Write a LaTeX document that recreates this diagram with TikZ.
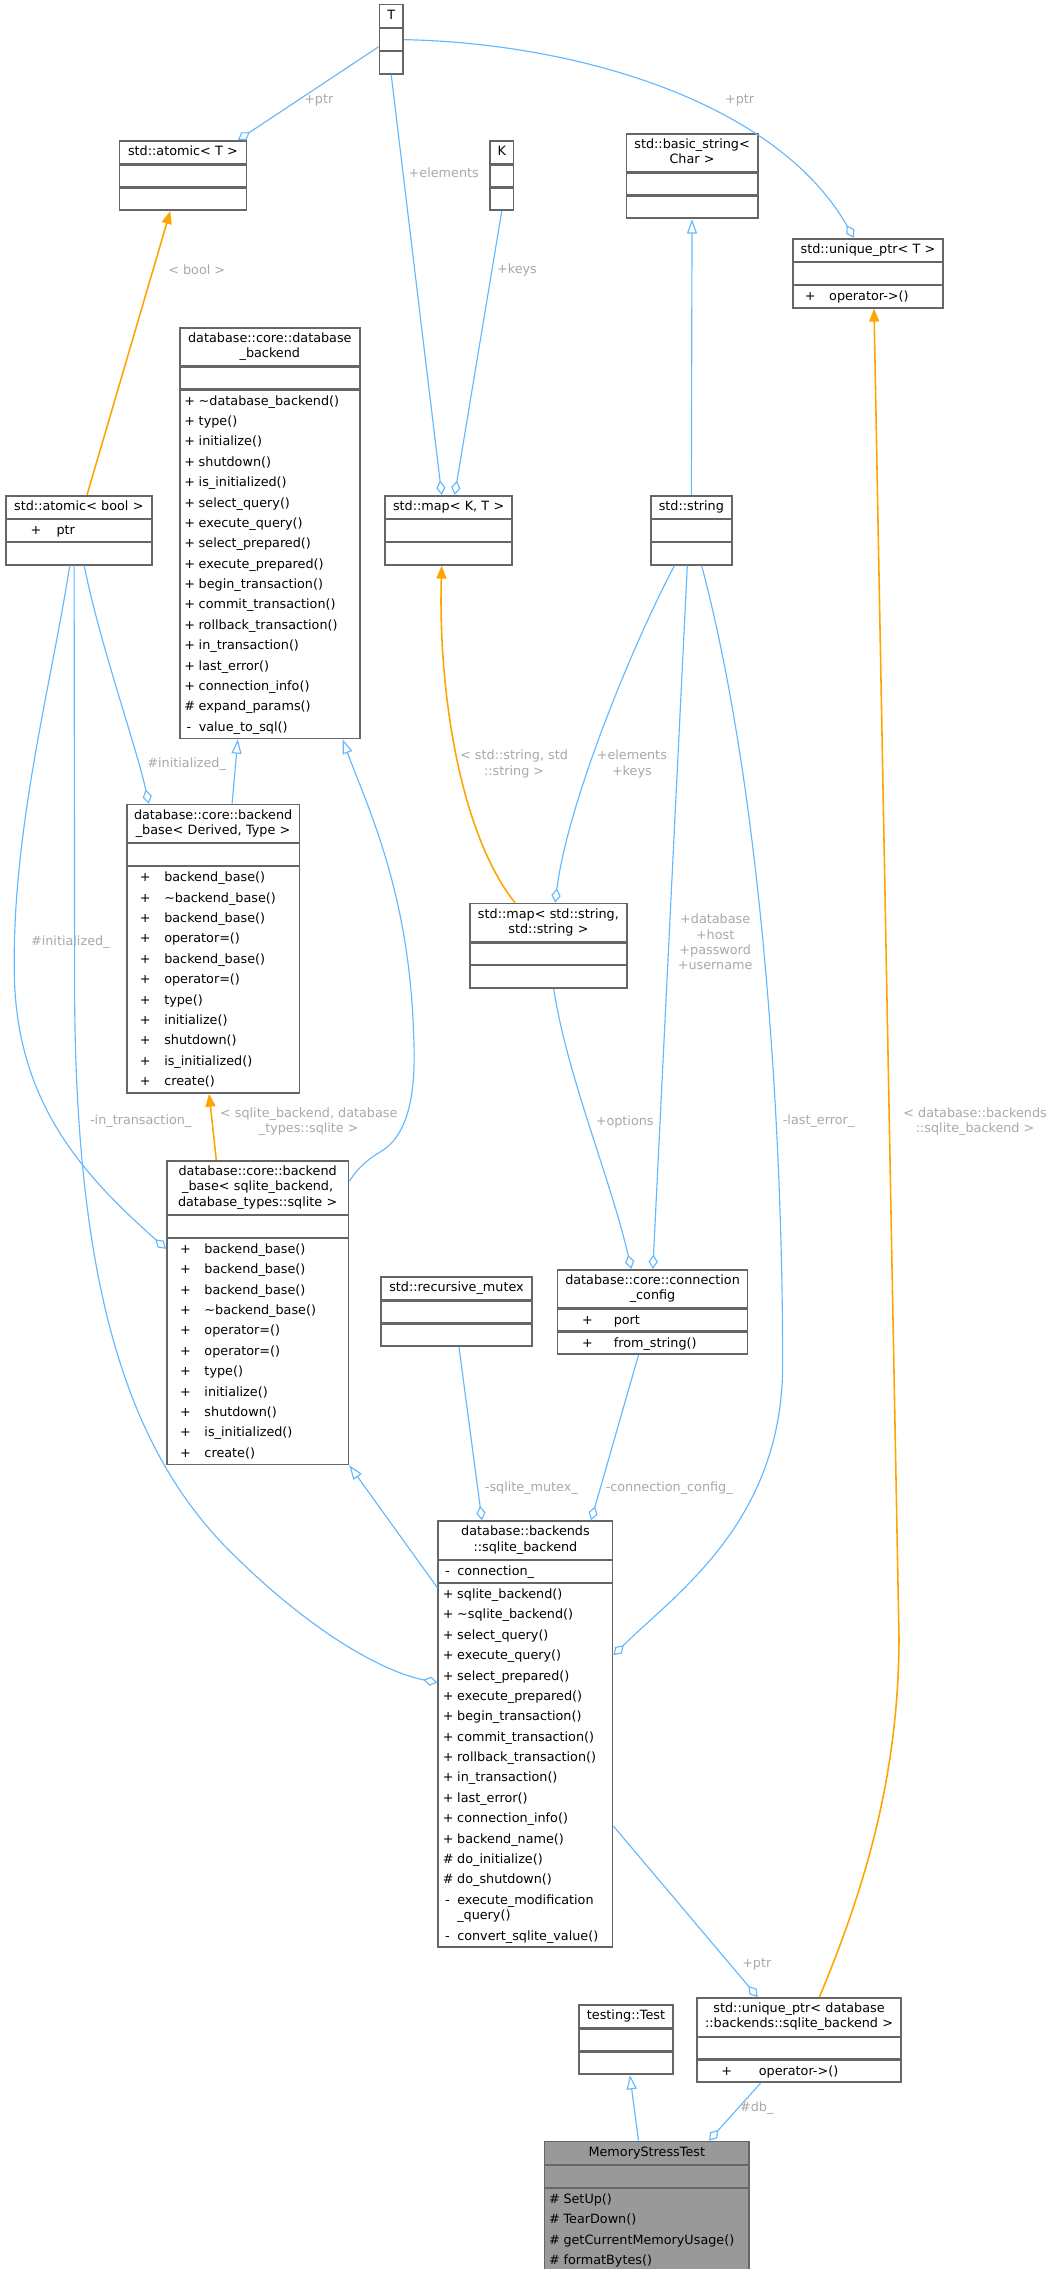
\documentclass[tikz,border=0pt]{standalone}
\usepackage{fontspec}
\setmainfont{DejaVu Sans}
\usetikzlibrary{arrows.meta,fit,calc}
\definecolor{boxgray}{HTML}{666666}
\definecolor{eblue}{HTML}{63B8FF}
\definecolor{lgray}{HTML}{A8A8A8}
\definecolor{eorange}{HTML}{FFA500}
\definecolor{mgray}{HTML}{999999}
\newcommand\mm[2]{\strut\makebox[10pt][l]{#1}#2}
\newcommand\mx[4]{\strut\hspace{#1}\makebox[#2][l]{#3}#4}
\tikzset{
  boxpart/.style={draw=boxgray, line width=0.8pt, fill=white, inner xsep=3pt, inner ysep=0.5pt, font=\fontsize{8.9}{14.2}\selectfont},
  titlepart/.style={boxpart, inner ysep=2.5pt, font=\fontsize{8.9}{10.7}\selectfont},
  uses/.style={draw=eblue, line width=0.8pt, -{Diamond[open,length=10pt,width=6.5pt]}},
  inh/.style={draw=eblue, line width=0.8pt, -{Triangle[open,length=10pt,width=7pt]}},
  tmpl/.style={draw=eorange, line width=1.1pt, -{Triangle[length=9pt,width=7pt]}},
  elab/.style={text=lgray, font=\fontsize{8.9}{10.7}\selectfont, align=center, inner sep=1pt},
}
\newcommand\ubox[7][white]{%
  \pgfmathsetmacro\tw{#4-6}%
  \node[titlepart, fill=#1, text width=\tw pt, align=center, anchor=north west] (#2-t) at #3 {#5};
  \node[boxpart, fill=#1, text width=\tw pt, align=left, anchor=north] (#2-a) at (#2-t.south) {#6};
  \node[boxpart, fill=#1, text width=\tw pt, align=left, anchor=north] (#2-m) at (#2-a.south) {#7};
  \node[fit=(#2-t)(#2-m), inner sep=0pt, draw=boxgray, line width=0.8pt] (#2) {};
}
\begin{document}
\begin{tikzpicture}[x=1pt,y=1pt]
\useasboundingbox (0,0) rectangle (730.5,-1580);
% boxes
\ubox{T}{(264,-3)}{16}{\strut T}{\strut}{\strut}
\ubox{K}{(341,-98)}{16}{\strut K}{\strut}{\strut}
\ubox{atT}{(83,-98)}{88}{\strut std::atomic< T >}{\strut}{\strut}
\ubox{bstr}{(436,-93)}{91}{\strut std::basic\_string<\\\strut Char >}{\strut}{\strut}
\ubox{upT}{(552,-166)}{104}{\strut std::unique\_ptr< T >}{\strut}{\mx{5pt}{17pt}{+}{operator->()}}
\ubox{dbb}{(125,-228)}{125}{\strut database::core::database\\\strut \_backend}{\strut}{%
\mm{+}{\textasciitilde database\_backend()}\\
\mm{+}{type()}\\
\mm{+}{initialize()}\\
\mm{+}{shutdown()}\\
\mm{+}{is\_initialized()}\\
\mm{+}{select\_query()}\\
\mm{+}{execute\_query()}\\
\mm{+}{select\_prepared()}\\
\mm{+}{execute\_prepared()}\\
\mm{+}{begin\_transaction()}\\
\mm{+}{commit\_transaction()}\\
\mm{+}{rollback\_transaction()}\\
\mm{+}{in\_transaction()}\\
\mm{+}{last\_error()}\\
\mm{+}{connection\_info()}\\
\mm{\#}{expand\_params()}\\
\mm{\,-}{value\_to\_sql()}}
\ubox{mapKT}{(268,-345)}{88}{\strut std::map< K, T >}{\strut}{\strut}
\ubox{atb}{(4,-345)}{101}{\strut std::atomic< bool >}{\mx{14pt}{18pt}{+}{ptr}}{\strut}
\ubox{str}{(453,-345)}{56}{\strut std::string}{\strut}{\strut}
\ubox{bbDT}{(88,-560)}{120}{\strut database::core::backend\\\strut \_base< Derived, Type >}{\strut}{%
\mx{6pt}{17pt}{+}{backend\_base()}\\
\mx{6pt}{17pt}{+}{\textasciitilde backend\_base()}\\
\mx{6pt}{17pt}{+}{backend\_base()}\\
\mx{6pt}{17pt}{+}{operator=()}\\
\mx{6pt}{17pt}{+}{backend\_base()}\\
\mx{6pt}{17pt}{+}{operator=()}\\
\mx{6pt}{17pt}{+}{type()}\\
\mx{6pt}{17pt}{+}{initialize()}\\
\mx{6pt}{17pt}{+}{shutdown()}\\
\mx{6pt}{17pt}{+}{is\_initialized()}\\
\mx{6pt}{17pt}{+}{create()}}
\ubox{mapss}{(327,-629)}{109}{\strut std::map< std::string,\\\strut std::string >}{\strut}{\strut}
\ubox{bbS}{(116,-808)}{126}{\strut database::core::backend\\\strut \_base< sqlite\_backend,\\\strut database\_types::sqlite >}{\strut}{%
\mx{6pt}{17pt}{+}{backend\_base()}\\
\mx{6pt}{17pt}{+}{backend\_base()}\\
\mx{6pt}{17pt}{+}{backend\_base()}\\
\mx{6pt}{17pt}{+}{\textasciitilde backend\_base()}\\
\mx{6pt}{17pt}{+}{operator=()}\\
\mx{6pt}{17pt}{+}{operator=()}\\
\mx{6pt}{17pt}{+}{type()}\\
\mx{6pt}{17pt}{+}{initialize()}\\
\mx{6pt}{17pt}{+}{shutdown()}\\
\mx{6pt}{17pt}{+}{is\_initialized()}\\
\mx{6pt}{17pt}{+}{create()}}
\ubox{rmx}{(265,-889)}{105}{\strut std::recursive\_mutex}{\strut}{\strut}
\ubox{cc}{(388,-884)}{132}{\strut database::core::connection\\\strut \_config}{\mx{14pt}{22pt}{+}{port}}{\mx{14pt}{22pt}{+}{from\_string()}}
\ubox{sq}{(305,-1059)}{121}{\strut database::backends\\\strut ::sqlite\_backend}{\mm{\,-}{connection\_}}{%
\mm{+}{sqlite\_backend()}\\
\mm{+}{\textasciitilde sqlite\_backend()}\\
\mm{+}{select\_query()}\\
\mm{+}{execute\_query()}\\
\mm{+}{select\_prepared()}\\
\mm{+}{execute\_prepared()}\\
\mm{+}{begin\_transaction()}\\
\mm{+}{commit\_transaction()}\\
\mm{+}{rollback\_transaction()}\\
\mm{+}{in\_transaction()}\\
\mm{+}{last\_error()}\\
\mm{+}{connection\_info()}\\
\mm{+}{backend\_name()}\\
\mm{\#}{do\_initialize()}\\
\mm{\#}{do\_shutdown()}\\
\mm{\,-}{execute\_modification}\\[-3.5pt]
\mm{}{\_query()}\\
\mm{\,-}{convert\_sqlite\_value()}}
\ubox{tt}{(403,-1396)}{65}{\strut testing::Test}{\strut}{\strut}
\ubox{upS}{(485,-1391)}{142}{\strut std::unique\_ptr< database\\\strut ::backends::sqlite\_backend >}{\strut}{\mx{14pt}{26pt}{+}{operator->()}}
\ubox[mgray]{mst}{(379,-1491)}{142}{\strut MemoryStressTest}{\strut}{%
\mm{\#}{SetUp()}\\
\mm{\#}{TearDown()}\\
\mm{\#}{getCurrentMemoryUsage()}\\
\mm{\#}{formatBytes()}}
% edges
\draw[uses] ([yshift=-30pt]T.north west) -- ([xshift=83pt]atT.north west);
\node[elab] at (222,-70) {+ptr};
\draw[uses] ([yshift=-25pt]T.north east) .. controls (400,-30) and (540,-70) .. ([xshift=43pt]upT.north west);
\node[elab] at (515,-70) {+ptr};
\draw[uses] (T.south) -- ([xshift=40pt]mapKT.north west);
\node[elab] at (309,-120) {+elements};
\draw[uses] (K.south) -- ([xshift=49pt]mapKT.north west);
\node[elab] at (360,-188) {+keys};
\draw[inh] (str.north) -- (bstr.south);
\draw[tmpl] ([xshift=86pt]upS.north west) .. controls (600,-1320) and (626,-1240) .. (626,-1140) -- ([xshift=57pt]upT.south west);
\node[elab] at (679,-781) {< database::backends\\::sqlite\_backend >};
\draw[tmpl] ([xshift=57pt]atb.north west) -- ([xshift=36pt]atT.south west);
\node[elab] at (137,-188) {< bool >};
\draw[inh] ([xshift=74pt]bbDT.north west) -- ([xshift=41pt]dbb.south west);
\draw[uses] ([xshift=55pt]atb.south west) .. controls (70,-450) and (95,-520) .. ([xshift=16pt]bbDT.north west);
\node[elab] at (130,-532) {\#initialized\_};
\draw[uses] ([xshift=45pt]atb.south west) .. controls (35,-480) and (8,-580) .. (10,-680) .. controls (12,-770) and (60,-820) .. ([yshift=-62pt]bbS.north west);
\node[elab] at (49,-656) {\#initialized\_};
\draw[uses] ([xshift=48pt]atb.south west) -- (52,-700) .. controls (54,-900) and (90,-1010) .. (160,-1080) .. controls (220,-1140) and (270,-1165) .. ([yshift=-113pt]sq.north west);
\node[elab] at (98,-781) {-in\_transaction\_};
\draw[tmpl] ([xshift=35pt]bbS.north west) -- ([xshift=58pt]bbDT.south west);
\node[elab] at (215,-781) {< sqlite\_backend, database\\\_types::sqlite >};
\draw[inh] ([yshift=-15pt]bbS.north east) .. controls (250,-812) and (258,-806) .. (265,-802) .. controls (285,-790) and (290,-760) .. (288,-720) .. controls (285,-620) and (255,-560) .. ([xshift=114pt]dbb.south west);
\draw[uses] ([xshift=17pt]str.south west) .. controls (440,-450) and (395,-560) .. ([xshift=60pt]mapss.north west);
\node[elab] at (440,-532) {+elements\\+keys};
\draw[tmpl] ([xshift=32pt]mapss.north west) .. controls (320,-580) and (305,-480) .. ([xshift=40pt]mapKT.south west);
\node[elab] at (358,-532) {< std::string, std\\::string >};
\draw[uses] ([xshift=26pt]str.south west) -- ([xshift=67pt]cc.north west);
\node[elab] at (498,-656) {+database\\+host\\+password\\+username};
\draw[uses] ([xshift=59pt]mapss.south west) .. controls (395,-750) and (425,-820) .. ([xshift=52pt]cc.north west);
\node[elab] at (435,-781) {+options};
\draw[uses] ([xshift=36pt]str.south west) .. controls (530,-550) and (545,-780) .. (545,-950) .. controls (545,-1060) and (470,-1110) .. ([yshift=-94pt]sq.north east);
\node[elab] at (570,-781) {-last\_error\_};
\draw[inh] ([yshift=-47pt]sq.north west) -- (bbS.south east);
\draw[uses] ([xshift=55pt]rmx.south west) -- ([xshift=31pt]sq.north west);
\node[elab] at (370,-1036) {-sqlite\_mutex\_};
\draw[uses] ([xshift=57pt]cc.south west) -- ([xshift=107pt]sq.north west);
\node[elab] at (466,-1036) {-connection\_config\_};
\draw[uses] ([yshift=-213pt]sq.north east) -- ([xshift=43pt]upS.north west);
\node[elab] at (527,-1368) {+ptr};
\draw[inh] ([xshift=66pt]mst.north west) -- ([xshift=36pt]tt.south west);
\draw[uses] ([xshift=45pt]upS.south west) -- ([xshift=115pt]mst.north west);
\node[elab] at (527,-1468) {\#db\_};
\end{tikzpicture}
\end{document}
